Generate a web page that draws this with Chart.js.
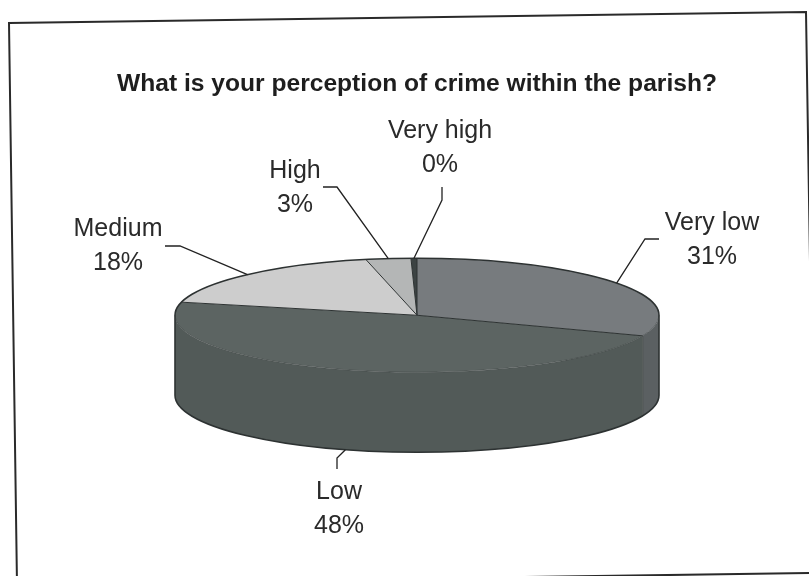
<!DOCTYPE html>
<html>
<head>
<meta charset="utf-8">
<script src="https://cdn.jsdelivr.net/npm/chart.js@4.4.1/dist/chart.umd.min.js"></script>
<style>
  html, body { margin: 0; padding: 0; background: #fff; }
  #wrap { width: 809px; height: 576px; }
</style>
</head>
<body>
<div id="wrap"><canvas id="crimeChart" width="809" height="576"></canvas></div>
<script>
const titleText = 'What is your perception of crime within the parish?';
const categories = ['Very low', 'Low', 'Medium', 'High', 'Very high'];
const shares = [31, 48, 18, 3, 0.4];

const topColors = ['#777b7e', '#5c6462', '#cdcdcd', '#b4b6b6', '#3c4343'];
const sideColors = ['#5b6062', '#525a58', '#a9aaaa', '#939595', '#2f3535'];

// where each label sits and how its leader line bends
const labelLayout = [
    { x: 712, y: 223, elbow: [645, 239], end: [659, 239] },
    { x: 339, y: 492, elbow: [337, 458], end: [337, 469] },
    { x: 118, y: 229, elbow: [180, 246], end: [165, 246] },
    { x: 295, y: 171, elbow: [337, 187], end: [323, 187] },
    { x: 440, y: 131, elbow: [442, 200], end: [442, 187] }
];

const PIE_RX = 242;
const PIE_RY = 57;
const DEPTH = 80;
const INK = '#2d3232';

const total = shares.reduce((s, v) => s + v, 0);
const pctText = shares.map(v => Math.round(v / total * 100) + '%');

function frontSpans(a0, a1) {
    const spans = [];
    for (let k = -1; k <= 1; k++) {
        const lo = Math.max(a0, k * 2 * Math.PI);
        const hi = Math.min(a1, k * 2 * Math.PI + Math.PI);
        if (hi > lo) spans.push([lo, hi]);
    }
    return spans;
}

const framePlugin = {
    id: 'frame',
    beforeDraw(chart) {
        const ctx = chart.ctx;
        ctx.save();
        ctx.strokeStyle = '#2a2a2a';
        ctx.lineWidth = 2;
        ctx.beginPath();
        ctx.moveTo(17, 584);
        ctx.lineTo(9, 23);
        ctx.lineTo(806, 12);
        ctx.lineTo(815, 573);
        ctx.closePath();
        ctx.stroke();
        ctx.restore();
    }
};

const pie3dPlugin = {
    id: 'pie3d',
    beforeDatasetsDraw(chart) {
        const ctx = chart.ctx;
        const arcs = chart.getDatasetMeta(0).data;
        const cx = arcs[0].x, cy = arcs[0].y;
        const r = arcs[0].outerRadius;

        // walls of the cylinder, only the front half shows
        ctx.save();
        arcs.forEach((arc, i) => {
            frontSpans(arc.startAngle, arc.endAngle).forEach(([lo, hi]) => {
                ctx.beginPath();
                ctx.ellipse(cx, cy, PIE_RX, PIE_RY, 0, lo, hi, false);
                ctx.ellipse(cx, cy + DEPTH, PIE_RX, PIE_RY, 0, hi, lo, true);
                ctx.closePath();
                ctx.fillStyle = sideColors[i];
                ctx.fill();
            });
        });
        ctx.restore();

        // squash the round pie into the top ellipse
        ctx.save();
        ctx.translate(cx, cy);
        ctx.scale(PIE_RX / r, PIE_RY / r);
        ctx.translate(-cx, -cy);
    },
    afterDatasetsDraw(chart) {
        const ctx = chart.ctx;
        ctx.restore();
        const arcs = chart.getDatasetMeta(0).data;
        const cx = arcs[0].x, cy = arcs[0].y;

        ctx.save();
        ctx.strokeStyle = INK;
        ctx.lineWidth = 1;
        // slice edges on top
        arcs.forEach(arc => {
            const a = arc.startAngle;
            const ex = cx + PIE_RX * Math.cos(a);
            const ey = cy + PIE_RY * Math.sin(a);
            ctx.beginPath();
            ctx.moveTo(cx, cy);
            ctx.lineTo(ex, ey);
            ctx.stroke();
            if (Math.sin(a) > 0) {
                ctx.globalAlpha = 0.5;
                ctx.beginPath();
                ctx.moveTo(ex, ey);
                ctx.lineTo(ex, ey + DEPTH);
                ctx.stroke();
                ctx.globalAlpha = 1;
            }
        });
        // front rim between top and wall
        ctx.globalAlpha = 0.4;
        ctx.beginPath();
        ctx.ellipse(cx, cy, PIE_RX, PIE_RY, 0, 0, Math.PI, false);
        ctx.stroke();
        ctx.globalAlpha = 1;

        // silhouette
        ctx.lineWidth = 1.6;
        ctx.beginPath();
        ctx.ellipse(cx, cy, PIE_RX, PIE_RY, 0, Math.PI, 2 * Math.PI, false);
        ctx.lineTo(cx + PIE_RX, cy + DEPTH);
        ctx.ellipse(cx, cy + DEPTH, PIE_RX, PIE_RY, 0, 0, Math.PI, false);
        ctx.closePath();
        ctx.stroke();

        // labels with leader lines
        ctx.lineWidth = 1.3;
        ctx.strokeStyle = '#222';
        ctx.fillStyle = '#2a2a2a';
        ctx.font = '25px "Liberation Sans", Arial, sans-serif';
        ctx.textAlign = 'center';
        ctx.textBaseline = 'middle';
        arcs.forEach((arc, i) => {
            const mid = (arc.startAngle + arc.endAngle) / 2;
            const ax = cx + PIE_RX * Math.cos(mid);
            let ay = cy + PIE_RY * Math.sin(mid);
            if (Math.sin(mid) > 0.3) ay += DEPTH;
            const lay = labelLayout[i];
            ctx.beginPath();
            ctx.moveTo(ax, ay);
            ctx.lineTo(lay.elbow[0], lay.elbow[1]);
            ctx.lineTo(lay.end[0], lay.end[1]);
            ctx.stroke();
            ctx.fillText(categories[i], lay.x, lay.y);
            ctx.fillText(pctText[i], lay.x, lay.y + 34);
        });
        ctx.restore();
    }
};

new Chart(document.getElementById('crimeChart'), {
    type: 'pie',
    data: {
        labels: categories,
        datasets: [{
            data: shares,
            backgroundColor: topColors,
            borderWidth: 0,
            hoverOffset: 0
        }]
    },
    options: {
        responsive: false,
        animation: false,
        events: [],
        layout: {
            padding: { left: 25, right: 0, top: 0, bottom: 51 }
        },
        plugins: {
            legend: { display: false },
            tooltip: { enabled: false },
            title: {
                display: true,
                text: titleText,
                color: '#1e1e1e',
                font: { family: '"Liberation Sans", Arial, sans-serif', size: 24.6, weight: 'bold' },
                padding: { top: 69, bottom: 7 }
            }
        }
    },
    plugins: [framePlugin, pie3dPlugin]
});
</script>
</body>
</html>
